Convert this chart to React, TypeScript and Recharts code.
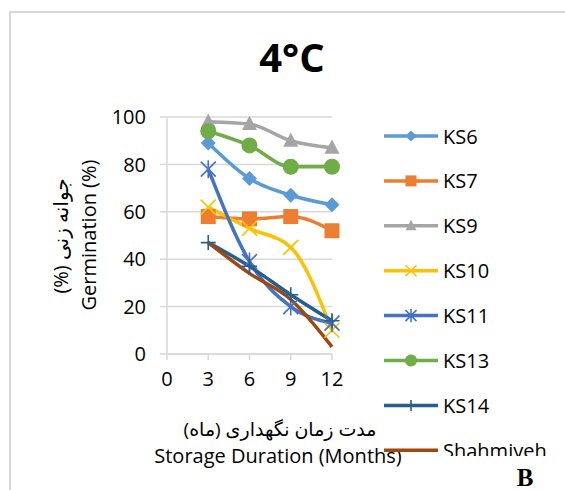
import { LineChart, Line, XAxis, YAxis, CartesianGrid } from 'recharts'

const months = [3, 6, 9, 12]
const ks6 = [89, 74, 67, 63]
const ks7 = [58, 57, 58, 52]
const ks9 = [98, 97, 90, 87]
const ks10 = [62, 53, 45, 10]
const ks11 = [78, 39, 20, 13]
const ks13 = [94, 88, 79, 79]
const ks14 = [47, 37, 25, 14]
const shahmiyeh = [47, 34, 23, 3]

const xTicks = [0, 3, 6, 9, 12]
const yTicks = [0, 20, 40, 60, 80, 100]

type Shape = 'diamond' | 'square' | 'triangle' | 'x' | 'star' | 'circle' | 'plus' | 'none'

const SERIES: { key: string; name: string; color: string; shape: Shape; values: number[] }[] = [
  { key: 'ks6', name: 'KS6', color: '#5B9BD5', shape: 'diamond', values: ks6 },
  { key: 'ks7', name: 'KS7', color: '#ED7D31', shape: 'square', values: ks7 },
  { key: 'ks9', name: 'KS9', color: '#A5A5A5', shape: 'triangle', values: ks9 },
  { key: 'ks10', name: 'KS10', color: '#FFC000', shape: 'x', values: ks10 },
  { key: 'ks11', name: 'KS11', color: '#4472C4', shape: 'star', values: ks11 },
  { key: 'ks13', name: 'KS13', color: '#70AD47', shape: 'circle', values: ks13 },
  { key: 'ks14', name: 'KS14', color: '#255E91', shape: 'plus', values: ks14 },
  { key: 'shahmiyeh', name: 'Shahmiyeh', color: '#9E480E', shape: 'none', values: shahmiyeh },
]

const data = months.map((m, i) => {
  const row: Record<string, number> = { month: m }
  SERIES.forEach((s) => {
    row[s.key] = s.values[i]
  })
  return row
})

const FONT = '"Open Sans", "DejaVu Sans", sans-serif'
const GRID = '#D9D9D9'

const Marker = ({ cx, cy, shape, color, r }: { cx: number; cy: number; shape: Shape; color: string; r: number }) => {
  switch (shape) {
    case 'diamond':
      return <path d={`M${cx},${cy - r} L${cx + r},${cy} L${cx},${cy + r} L${cx - r},${cy} Z`} fill={color} />
    case 'square':
      return <rect x={cx - r} y={cy - r} width={r * 2} height={r * 2} fill={color} />
    case 'triangle':
      return <path d={`M${cx},${cy - r * 1.1} L${cx + r},${cy + r * 0.8} L${cx - r},${cy + r * 0.8} Z`} fill={color} />
    case 'circle':
      return <circle cx={cx} cy={cy} r={r} fill={color} />
    case 'x':
      return (
        <path
          d={`M${cx - r},${cy - r} L${cx + r},${cy + r} M${cx + r},${cy - r} L${cx - r},${cy + r}`}
          stroke={color}
          strokeWidth={1.6}
        />
      )
    case 'star':
      return (
        <path
          d={`M${cx - r},${cy - r} L${cx + r},${cy + r} M${cx + r},${cy - r} L${cx - r},${cy + r} M${cx},${cy - r * 1.2} L${cx},${cy + r * 1.2}`}
          stroke={color}
          strokeWidth={1.6}
        />
      )
    case 'plus':
      return (
        <path
          d={`M${cx - r},${cy} L${cx + r},${cy} M${cx},${cy - r} L${cx},${cy + r}`}
          stroke={color}
          strokeWidth={1.6}
        />
      )
    default:
      return null
  }
}

const dotFor = (shape: Shape, color: string) => (props: any) => {
  const { cx, cy, index } = props
  return (
    <g key={`dot-${shape}-${index}`}>
      <Marker cx={cx} cy={cy} shape={shape} color={color} r={shape === 'circle' ? 8 : 7.5} />
    </g>
  )
}

const legendTop = 136
const legendStep = 44.9

const App = () => {
  return (
    <div style={{ position: 'absolute', left: 0, top: 0, width: 565, height: 490, background: '#fff', overflow: 'hidden' }}>
      <div
        style={{
          position: 'absolute',
          left: 9,
          top: 11,
          width: 600,
          height: 520,
          borderLeft: `2px solid ${GRID}`,
          borderTop: `2px solid ${GRID}`,
        }}
      />
      <div style={{ position: 'absolute', left: 0, top: 0 }}>
        <LineChart width={565} height={490} data={data} margin={{ top: 117, right: 233, bottom: 96, left: 117 }}>
          <CartesianGrid vertical={false} stroke={GRID} strokeWidth={1.5} />
          <XAxis
            dataKey="month"
            type="number"
            domain={[0, 12]}
            ticks={xTicks}
            height={40}
            axisLine={{ stroke: GRID, strokeWidth: 1.5 }}
            tickLine={{ stroke: GRID, strokeWidth: 1.5 }}
            tickSize={6}
            tickMargin={12}
            tick={{ fill: '#000', fontSize: 20, fontFamily: FONT }}
          />
          <YAxis
            type="number"
            domain={[0, 100]}
            ticks={yTicks}
            width={50}
            axisLine={{ stroke: GRID, strokeWidth: 1.5 }}
            tickLine={{ stroke: GRID, strokeWidth: 1.5 }}
            tickSize={7}
            tickMargin={14}
            tick={{ fill: '#000', fontSize: 20, fontFamily: FONT }}
          />
          {SERIES.map((s) => (
            <Line
              key={s.key}
              dataKey={s.key}
              name={s.name}
              type="monotone"
              stroke={s.color}
              strokeWidth={3.5}
              dot={dotFor(s.shape, s.color)}
              activeDot={false}
              isAnimationActive={false}
            />
          ))}
        </LineChart>
      </div>
      <svg width={565} height={490} style={{ position: 'absolute', left: 0, top: 0, pointerEvents: 'none' }}>
        <text x={292} y={72} textAnchor="middle" fontFamily={FONT} fontWeight={700} fontSize={40}>
          4°C
        </text>
        <g transform="translate(60,236) rotate(-90)">
          <text x={0} y={0} textAnchor="middle" dominantBaseline="central" fontFamily={FONT} fontSize={20}>
            (%) جوانه زنی
          </text>
        </g>
        <g transform="translate(88,235) rotate(-90)">
          <text x={0} y={0} textAnchor="middle" dominantBaseline="central" fontFamily={FONT} fontSize={20}>
            Germination (%)
          </text>
        </g>
        <text x={280} y={429} textAnchor="middle" dominantBaseline="central" fontFamily={FONT} fontSize={19}>
          مدت زمان نگهداری (ماه)
        </text>
        <text x={278} y={463} textAnchor="middle" fontFamily={FONT} fontSize={20}>
          Storage Duration (Months)
        </text>
        <text x={525} y={486} textAnchor="middle" fontFamily='"Liberation Serif", serif' fontWeight={700} fontSize={25}>
          B
        </text>
      </svg>
      <svg width={565} height={456} style={{ position: 'absolute', left: 0, top: 0, pointerEvents: 'none' }}>
        {SERIES.map((s, i) => {
          const y = legendTop + i * legendStep
          return (
            <g key={s.key}>
              <line x1={384} x2={438} y1={y} y2={y} stroke={s.color} strokeWidth={3.5} />
              <Marker cx={411} cy={y} shape={s.shape} color={s.color} r={s.shape === 'circle' ? 6 : 5.5} />
              <text x={443} y={y} dominantBaseline="central" fontFamily={FONT} fontSize={20}>
                {s.name}
              </text>
            </g>
          )
        })}
      </svg>
    </div>
  )
}

export default App
